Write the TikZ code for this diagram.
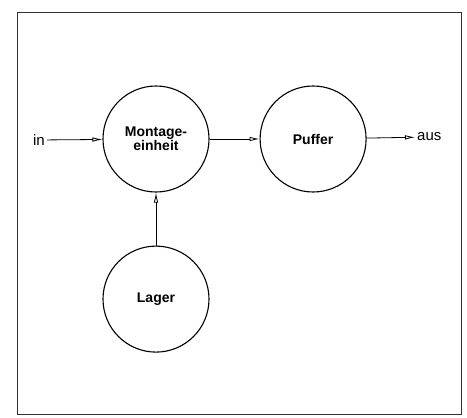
\documentclass[tikz,border=0pt]{standalone}
\usepackage{fontspec}
\setmainfont{Liberation Sans}
\usepackage{tikz}
\usetikzlibrary{positioning,arrows.meta}
\def\StWidth{50pt}
\def\StHeight{53pt}

\tikzset{
	station/.style={draw, circle, line width=1.1pt, minimum size=106pt, inner sep=0pt,
		font=\fontsize{14}{16}\selectfont\bfseries, align=center},
	endlabel/.style={inner sep=2pt, font=\fontsize{15}{16}\selectfont},
	flow/.style={line width=0.8pt, -{Latex[open,length=10pt,width=4.5pt]}}
}

\begin{document}
\begin{tikzpicture}[x=1pt,y=1pt]
	\useasboundingbox (0,0) rectangle (467,-418);
	% outer frame
	\draw[line width=0.9pt, black!80] (17,-12) rectangle (461,-414);
	% 
	\node[station] (montage) at (156,-139) {Montage-\\[-2pt]einheit};
	\node[station, right=\StWidth of montage] (puffer) {Puffer};
	\node[station, below=\StHeight of montage] (lager) {Lager};
	% 
	\node[endlabel] (in) at (39,-140) {in};
	\node[endlabel, anchor=west] (aus) at (415,-137) {aus};
	% 
	\draw[flow] (in) -- (montage);
	\draw[flow] (montage) -- (puffer);
	\draw[flow] (puffer) -- (aus);
	\draw[flow] (lager) -- (montage);
\end{tikzpicture}
\end{document}
